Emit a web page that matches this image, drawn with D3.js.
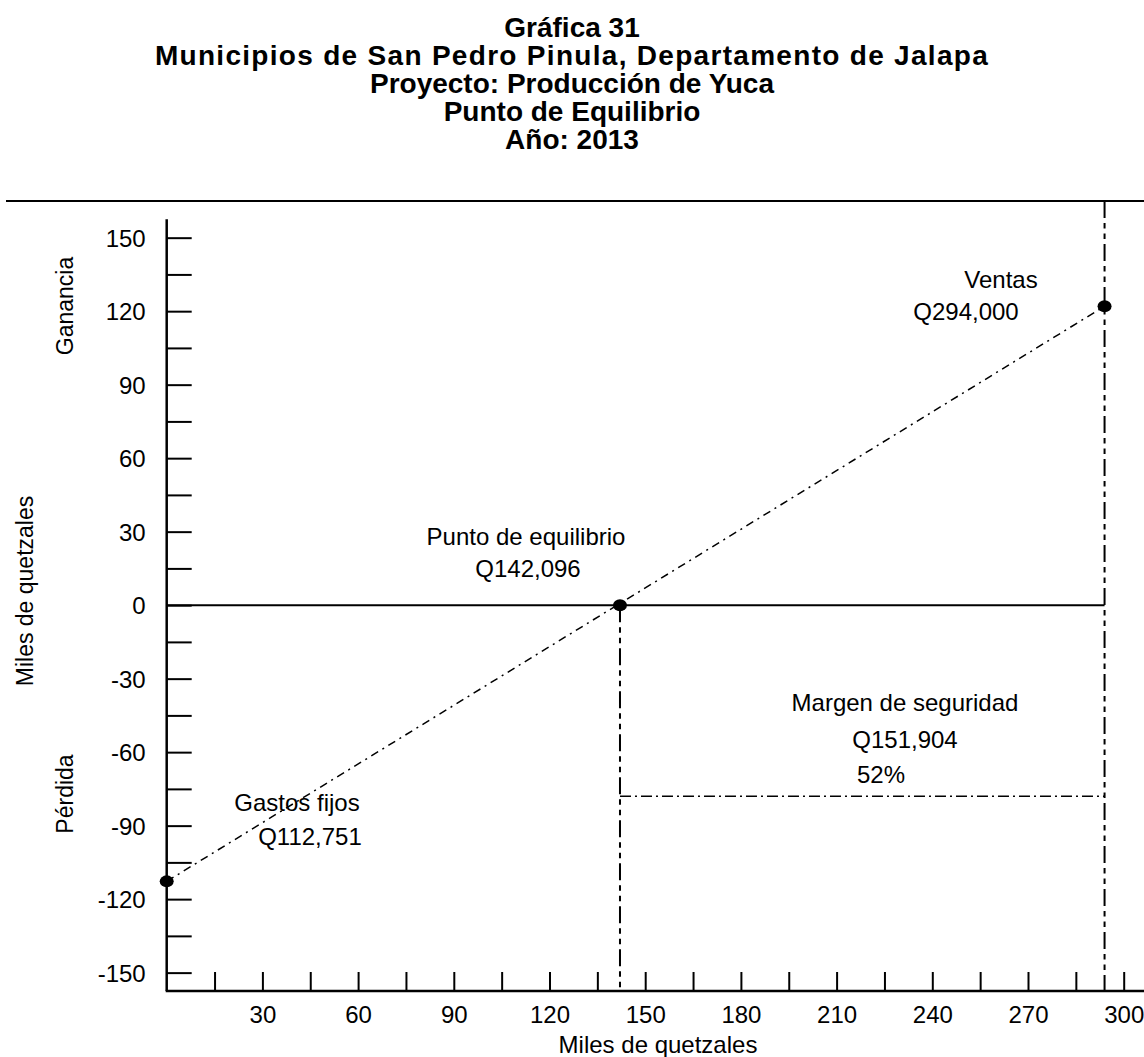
<!DOCTYPE html>
<html>
<head>
<meta charset="utf-8">
<script src="https://cdn.jsdelivr.net/npm/d3@7"></script>
<style>
  html, body { margin: 0; padding: 0; background: #fff; }
  svg { display: block; }
  text { font-family: "Liberation Sans", Arial, sans-serif; fill: #000; }
</style>
</head>
<body>
<svg id="chart" width="1144" height="1057"></svg>
<script>
// Break-even chart, values in thousands of quetzales
const titleLines = [
  "Gráfica 31",
  "Municipios de San Pedro Pinula, Departamento de Jalapa",
  "Proyecto: Producción de Yuca",
  "Punto de Equilibrio",
  "Año: 2013"
];
const xTickValues = [15, 30, 45, 60, 75, 90, 105, 120, 135, 150, 165, 180, 195, 210, 225, 240, 255, 270, 285, 300];
const xTickLabels = [30, 60, 90, 120, 150, 180, 210, 240, 270, 300];
const yTickValues = [-150, -135, -120, -105, -90, -75, -60, -45, -30, -15, 0, 15, 30, 45, 60, 75, 90, 105, 120, 135, 150];
const yTickLabels = [-150, -120, -90, -60, -30, 0, 30, 60, 90, 120, 150];

const fixedCosts = 112.751;      // loss at zero sales
const breakEven = 142.096;       // sales at which profit is zero
const sales = 294.0;             // projected sales
const profitAtSales = 122;       // profit at projected sales
const safetyMargin = 151.904;
const safetyPct = 52;
const safetyBracketLevel = -78;  // height of the safety-margin bracket

// profit line endpoints
const profitLine = [
  { x: 0, y: -fixedCosts },
  { x: sales, y: profitAtSales }
];

const svg = d3.select("#chart");
const W = 1144;

const x = d3.scaleLinear().domain([0, 300]).range([166.7, 1123.7]);
const y = d3.scaleLinear().domain([-157.5, 157.5]).range([991, 219.3]);

const FONT = 24;

// title (the long second line is set slightly looser)
svg.append("g")
  .selectAll("text")
  .data(titleLines)
  .join("text")
  .attr("x", 572)
  .attr("y", (d, i) => 37 + i * 28)
  .attr("text-anchor", "middle")
  .style("font-weight", "bold")
  .style("font-size", "28px")
  .style("letter-spacing", (d, i) => i === 1 ? "1.3px" : null)
  .text(d => d);

// rule under the title
svg.append("line")
  .attr("x1", 6).attr("x2", W)
  .attr("y1", 201).attr("y2", 201)
  .attr("stroke", "#000").attr("stroke-width", 2);

// y axis with inward ticks
const yAxis = d3.axisLeft(y)
  .tickValues(yTickValues)
  .tickSize(-25)
  .tickPadding(21)
  .tickFormat(d => yTickLabels.includes(d) ? String(d) : "");

const gy = svg.append("g")
  .attr("transform", `translate(${x(0)},0)`)
  .call(yAxis);
gy.select(".domain").remove();
gy.selectAll(".tick line").attr("stroke", "#000").attr("stroke-width", 2);
gy.selectAll(".tick text").style("font-size", FONT + "px").attr("dy", "0.35em");

// x axis with upward ticks
const xAxis = d3.axisBottom(x)
  .tickValues(xTickValues)
  .tickSize(-19)
  .tickPadding(15)
  .tickFormat(d => xTickLabels.includes(d) ? String(d) : "");

const gx = svg.append("g")
  .attr("transform", `translate(0,${y(-157.5)})`)
  .call(xAxis);
gx.select(".domain").remove();
gx.selectAll(".tick line").attr("stroke", "#000").attr("stroke-width", 2);
gx.selectAll(".tick text").style("font-size", FONT + "px");

// axis lines
svg.append("line")
  .attr("x1", x(0)).attr("x2", x(0))
  .attr("y1", y(157.5)).attr("y2", y(-157.5))
  .attr("stroke", "#000").attr("stroke-width", 2.5);
svg.append("line")
  .attr("x1", x(0) - 1).attr("x2", W)
  .attr("y1", y(-157.5)).attr("y2", y(-157.5))
  .attr("stroke", "#000").attr("stroke-width", 2.5);

// zero-profit line
svg.append("line")
  .attr("x1", x(0)).attr("x2", x(sales))
  .attr("y1", y(0)).attr("y2", y(0))
  .attr("stroke", "#000").attr("stroke-width", 2);

const dashDotDot = "17,5,5.5,5,5.5,5";

// projected sales marker
svg.append("line")
  .attr("x1", x(sales)).attr("x2", x(sales))
  .attr("y1", 201).attr("y2", y(-157.5))
  .attr("stroke", "#000").attr("stroke-width", 2)
  .attr("stroke-dasharray", dashDotDot);

// break-even marker
svg.append("line")
  .attr("x1", x(breakEven)).attr("x2", x(breakEven))
  .attr("y1", y(0)).attr("y2", y(-157.5))
  .attr("stroke", "#000").attr("stroke-width", 2)
  .attr("stroke-dasharray", dashDotDot);

// safety-margin bracket
svg.append("line")
  .attr("x1", x(breakEven)).attr("x2", x(sales))
  .attr("y1", y(safetyBracketLevel)).attr("y2", y(safetyBracketLevel))
  .attr("stroke", "#000").attr("stroke-width", 1.5)
  .attr("stroke-dasharray", "11,4,2,4");

// profit line
svg.append("path")
  .datum(profitLine)
  .attr("d", d3.line().x(d => x(d.x)).y(d => y(d.y)))
  .attr("fill", "none")
  .attr("stroke", "#000").attr("stroke-width", 1.5)
  .attr("stroke-dasharray", "8,5,2,5");

// key points
const points = [
  { x: 0, y: -fixedCosts },
  { x: breakEven, y: 0 },
  { x: sales, y: profitAtSales }
];
svg.append("g")
  .selectAll("ellipse")
  .data(points)
  .join("ellipse")
  .attr("cx", d => x(d.x))
  .attr("cy", d => y(d.y))
  .attr("rx", 7).attr("ry", 6)
  .attr("fill", "#000");

// annotations
const fmtQ = v => "Q" + d3.format(",")(Math.round(v * 1000));
const notes = [
  { t: "Ventas", cx: 1001, by: 288 },
  { t: fmtQ(sales), cx: 966, by: 320 },
  { t: "Punto de equilibrio", cx: 526, by: 545 },
  { t: fmtQ(breakEven), cx: 528, by: 577 },
  { t: "Margen de seguridad", cx: 905, by: 711 },
  { t: fmtQ(safetyMargin), cx: 905, by: 748 },
  { t: safetyPct + "%", cx: 881, by: 783 },
  { t: "Gastos fijos", cx: 297, by: 811 },
  { t: fmtQ(fixedCosts), cx: 310, by: 845 }
];
svg.append("g")
  .selectAll("text")
  .data(notes)
  .join("text")
  .attr("x", d => d.cx)
  .attr("y", d => d.by)
  .attr("text-anchor", "middle")
  .style("font-size", FONT + "px")
  .text(d => d.t);

// axis titles
svg.append("text")
  .attr("x", 658).attr("y", 1053)
  .attr("text-anchor", "middle")
  .style("font-size", FONT + "px")
  .text("Miles de quetzales");

const sideLabels = [
  { t: "Miles de quetzales", bx: 33, cy: 591 },
  { t: "Ganancia", bx: 73, cy: 306 },
  { t: "Pérdida", bx: 73, cy: 794 }
];
svg.append("g")
  .selectAll("text")
  .data(sideLabels)
  .join("text")
  .attr("transform", d => `translate(${d.bx},${d.cy}) rotate(-90)`)
  .attr("text-anchor", "middle")
  .style("font-size", "23px")
  .text(d => d.t);
</script>
</body>
</html>
